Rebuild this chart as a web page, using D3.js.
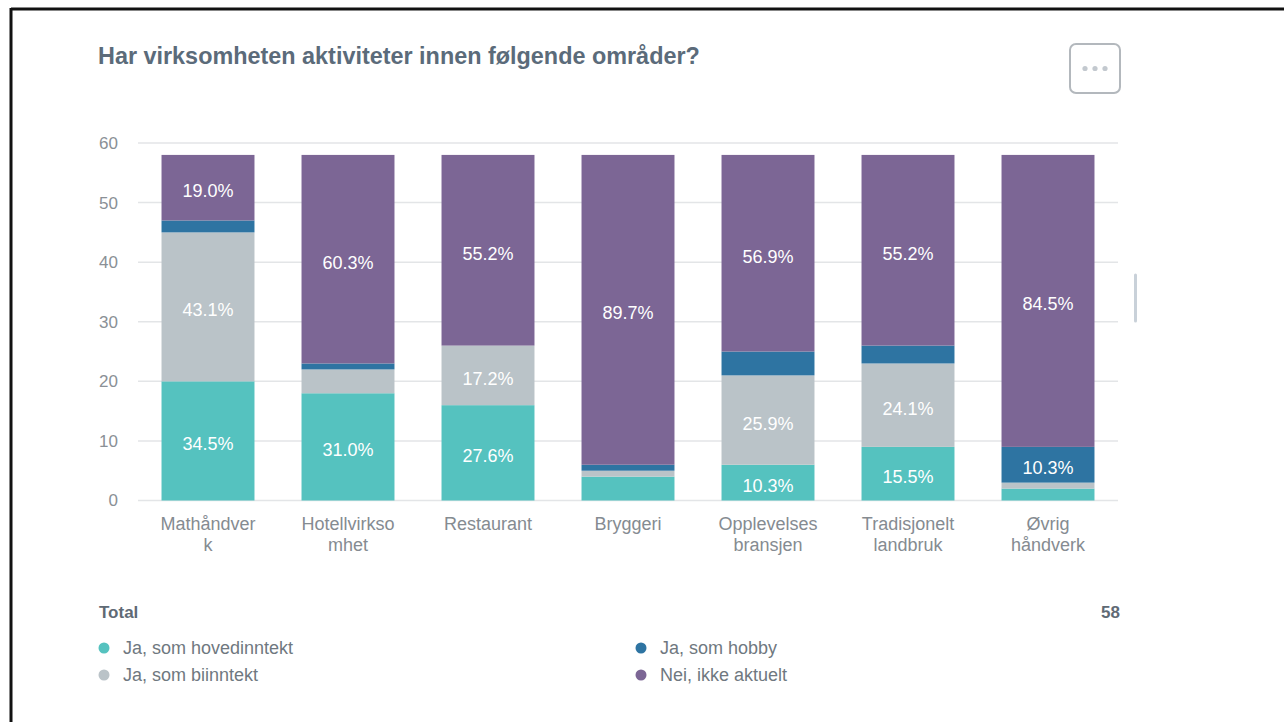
<!DOCTYPE html>
<html>
<head>
<meta charset="utf-8">
<script src="https://cdn.jsdelivr.net/npm/d3@7"></script>
<style>
  html, body { margin: 0; padding: 0; background: #fff; }
  svg { display: block; font-family: "Liberation Sans", Arial, sans-serif; }
</style>
</head>
<body>
<svg id="chart" width="1284" height="722"></svg>
<script>
// --- data (antall svar, total 58) ---
const categories = ["Mathåndverk", "Hotellvirksomhet", "Restaurant", "Bryggeri",
  "Opplevelses bransjen", "Tradisjonelt landbruk", "Øvrig håndverk"];
const categoryLines = [["Mathåndver", "k"], ["Hotellvirkso", "mhet"], ["Restaurant"],
  ["Bryggeri"], ["Opplevelses", "bransjen"], ["Tradisjonelt", "landbruk"], ["Øvrig", "håndverk"]];
const seriesNames = ["Ja, som hovedinntekt", "Ja, som biinntekt", "Ja, som hobby", "Nei, ikke aktuelt"];
const hovedinntekt = [20, 18, 16, 4, 6, 9, 2];
const biinntekt = [25, 4, 10, 1, 15, 14, 1];
const hobby = [2, 1, 0, 1, 4, 3, 6];
const ikkeAktuelt = [11, 35, 32, 52, 33, 32, 49];
const yTicks = [0, 10, 20, 30, 40, 50, 60];
const total = 58;

const colors = ["#55c2bf", "#bac3c8", "#2e74a2", "#7c6695"];

const svg = d3.select("#chart");

// ramme (venstre + topp)
svg.append("line").attr("x1", 11).attr("x2", 1284).attr("y1", 9).attr("y2", 9)
  .attr("stroke", "#111").attr("stroke-width", 3);
svg.append("line").attr("x1", 11).attr("x2", 11).attr("y1", 8).attr("y2", 722)
  .attr("stroke", "#111").attr("stroke-width", 3);

// tittel
svg.append("text")
  .attr("x", 98).attr("y", 64)
  .attr("font-size", 23.4).attr("font-weight", "bold")
  .attr("fill", "#5b6b7a")
  .text("Har virksomheten aktiviteter innen følgende områder?");

// meny-knapp
svg.append("rect")
  .attr("x", 1070).attr("y", 44).attr("width", 50).attr("height", 49).attr("rx", 6)
  .attr("fill", "#fff").attr("stroke", "#b3b8bd").attr("stroke-width", 2);
[-10, 0, 10].forEach(dx => {
  svg.append("circle").attr("cx", 1095 + dx).attr("cy", 68.5).attr("r", 2.6).attr("fill", "#c3c9cf");
});

// scrollbar-rest
svg.append("line").attr("x1", 1135.5).attr("x2", 1135.5).attr("y1", 275).attr("y2", 321)
  .attr("stroke", "#c9d1d9").attr("stroke-width", 3).attr("stroke-linecap", "round");

// skalaer
const x = d3.scaleBand().domain(categories).range([138, 1118])
  .paddingInner(0.336).paddingOuter(0.168);
const y = d3.scaleLinear().domain([0, 60]).range([500.5, 143]);

// rutenett
svg.append("g").selectAll("line").data(yTicks).join("line")
  .attr("x1", 138).attr("x2", 1118)
  .attr("y1", d => y(d)).attr("y2", d => y(d))
  .attr("stroke", "#e3e5e7").attr("stroke-width", 1.5);

// y-akse
const yAxis = svg.append("g").attr("transform", "translate(118,0)")
  .call(d3.axisLeft(y).tickValues(yTicks).tickSize(0).tickPadding(0));
yAxis.select(".domain").remove();
yAxis.selectAll("text")
  .attr("font-size", 17).attr("fill", "#8a9096")
  .attr("font-family", "Liberation Sans, Arial, sans-serif");

// stablede søyler
const rows = categories.map((c, i) => ({
  cat: c, s0: hovedinntekt[i], s1: biinntekt[i], s2: hobby[i], s3: ikkeAktuelt[i]
}));
const stacked = d3.stack().keys(["s0", "s1", "s2", "s3"])(rows);

const layers = svg.append("g").selectAll("g").data(stacked).join("g")
  .attr("fill", (d, i) => colors[i]);

layers.selectAll("rect").data(d => d).join("rect")
  .attr("x", d => x(d.data.cat))
  .attr("width", x.bandwidth())
  .attr("y", d => y(d[1]))
  .attr("height", d => y(d[0]) - y(d[1]));

// verdietiketter
layers.selectAll("text").data(d => d.filter(p => (p[1] - p[0]) / total >= 0.1)).join("text")
  .attr("x", d => x(d.data.cat) + x.bandwidth() / 2)
  .attr("y", d => y((d[0] + d[1]) / 2) + 3.5)
  .attr("text-anchor", "middle")
  .attr("dominant-baseline", "central")
  .attr("font-size", 18)
  .attr("fill", "#fff")
  .text(d => ((d[1] - d[0]) / total * 100).toFixed(1) + "%");

// x-etiketter
const xLab = svg.append("g").selectAll("text").data(categories).join("text")
  .attr("x", d => x(d) + x.bandwidth() / 2)
  .attr("y", 530)
  .attr("text-anchor", "middle")
  .attr("font-size", 18)
  .attr("fill", "#858b91");
xLab.each(function(d, i) {
  d3.select(this).selectAll("tspan").data(categoryLines[i]).join("tspan")
    .attr("x", x(d) + x.bandwidth() / 2)
    .attr("dy", (t, j) => j === 0 ? 0 : 21)
    .text(t => t);
});

// legende
svg.append("text").attr("x", 99).attr("y", 618)
  .attr("font-size", 17).attr("font-weight", "bold").attr("fill", "#5f6a75")
  .text("Total");
svg.append("text").attr("x", 1120).attr("y", 618).attr("text-anchor", "end")
  .attr("font-size", 17).attr("font-weight", "bold").attr("fill", "#5f6a75")
  .text(total);

const legendPos = [[104, 648], [104, 675], [641, 648], [641, 675]];
const legend = svg.append("g").selectAll("g").data(seriesNames).join("g")
  .attr("transform", (d, i) => `translate(${legendPos[i][0]},${legendPos[i][1]})`);
legend.append("circle").attr("r", 5.5).attr("fill", (d, i) => colors[i]);
legend.append("text").attr("x", 19).attr("dy", "0.35em")
  .attr("font-size", 18).attr("fill", "#6f7880")
  .text(d => d);
</script>
</body>
</html>
